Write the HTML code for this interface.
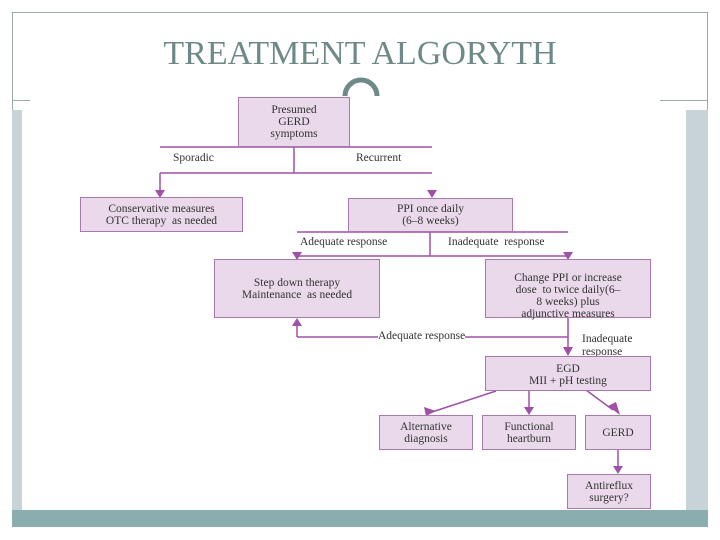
<html><head><style>
body{margin:0;width:720px;height:540px;background:#fff;position:relative;overflow:hidden;font-family:"Liberation Serif",serif}
.d{position:absolute}
.b{position:absolute;background:#e9d9ea;border:1.5px solid #a878ae;box-sizing:border-box;text-align:center;font-size:11.5px;line-height:12px;color:#333;display:flex;align-items:center;justify-content:center}
.t{position:absolute;font-size:11.5px;color:#333;white-space:nowrap}
</style></head><body>
<div class="d" style="left:12px;top:12px;width:696px;height:515px;border:1px solid #9aa;box-sizing:border-box"></div>
<div class="d" style="left:12px;top:110px;width:10px;height:400px;background:#c8d3d8"></div>
<div class="d" style="left:686px;top:110px;width:22px;height:400px;background:#c8d3d8"></div>
<div class="d" style="left:12px;top:510px;width:696px;height:17px;background:#8aaeb0"></div>
<div class="d" style="left:22px;top:96px;width:664px;height:414px;background:#fff"></div>
<div class="d" style="left:12px;top:100px;width:18px;height:1px;background:#9aa"></div>
<div class="d" style="left:660px;top:100px;width:48px;height:1px;background:#9aa"></div>
<div class="d" style="left:140px;top:35px;width:440px;font-size:34px;color:#6e8a88;text-align:center;white-space:nowrap">TREATMENT ALGORYTH</div>
<svg class="d" style="left:0;top:0" width="720" height="540">
<path d="M345 96 A16 16 0 0 1 377 96" fill="none" stroke="#6e8a88" stroke-width="5"/>
<g stroke="#a050a8" stroke-width="1.5" fill="none">
<path d="M160 147H432M160 173H432M294 147V173M160 173V192M297 232H568M297 256H568M430 232V256M297 256V275M568 256V259M568 318V350M297 337H568M297 337V324M496 391L432 412M529 390V410M586 390L613 410M618 449V468"/>
</g>
<g fill="#a050a8">
<path d="M155 190L165 190L160 198Z"/><path d="M427 190L437 190L432 198Z"/>
<path d="M292 252L302 252L297 260Z"/><path d="M563 252L573 252L568 260Z"/>
<path d="M292 326L302 326L297 318Z"/><path d="M563 347L573 347L568 356Z"/>
<path d="M424 407L436 411L426 416Z"/><path d="M524 407L534 407L529 415Z"/>
<path d="M608 406L616 402L620 415Z"/><path d="M613 466L623 466L618 474Z"/>
</g>
</svg>
<div class="b" style="left:238px;top:97px;width:112px;height:50px">Presumed<br>GERD<br>symptoms</div>
<div class="t" style="left:173px;top:152px">Sporadic</div>
<div class="t" style="left:356px;top:152px">Recurrent</div>
<div class="b" style="left:80px;top:197px;width:163px;height:35px">Conservative measures<br>OTC therapy &nbsp;as needed</div>
<div class="b" style="left:348px;top:198px;width:165px;height:34px">PPI once daily<br>(6–8 weeks)</div>
<div class="t" style="left:300px;top:236px">Adequate response</div>
<div class="t" style="left:448px;top:236px">Inadequate &nbsp;response</div>
<div class="b" style="left:214px;top:259px;width:166px;height:59px">Step down therapy<br>Maintenance &nbsp;as needed</div>
<div class="b" style="left:485px;top:259px;width:166px;height:59px;align-items:flex-start;padding-top:12px">Change PPI or increase<br>dose &nbsp;to twice daily(6–<br>8 weeks) plus<br>adjunctive measures</div>
<div class="t" style="left:378px;top:330px;background:#fff">Adequate response</div>
<div class="t" style="left:582px;top:333px;line-height:13px">Inadequate<br>response</div>
<div class="b" style="left:485px;top:356px;width:166px;height:35px;align-items:flex-start;padding-top:6px">EGD<br>MII + pH testing</div>
<div class="b" style="left:379px;top:415px;width:94px;height:35px">Alternative<br>diagnosis</div>
<div class="b" style="left:482px;top:415px;width:94px;height:35px">Functional<br>heartburn</div>
<div class="b" style="left:585px;top:415px;width:66px;height:35px">GERD</div>
<div class="b" style="left:567px;top:474px;width:84px;height:35px">Antireflux<br>surgery?</div>
</body></html>
